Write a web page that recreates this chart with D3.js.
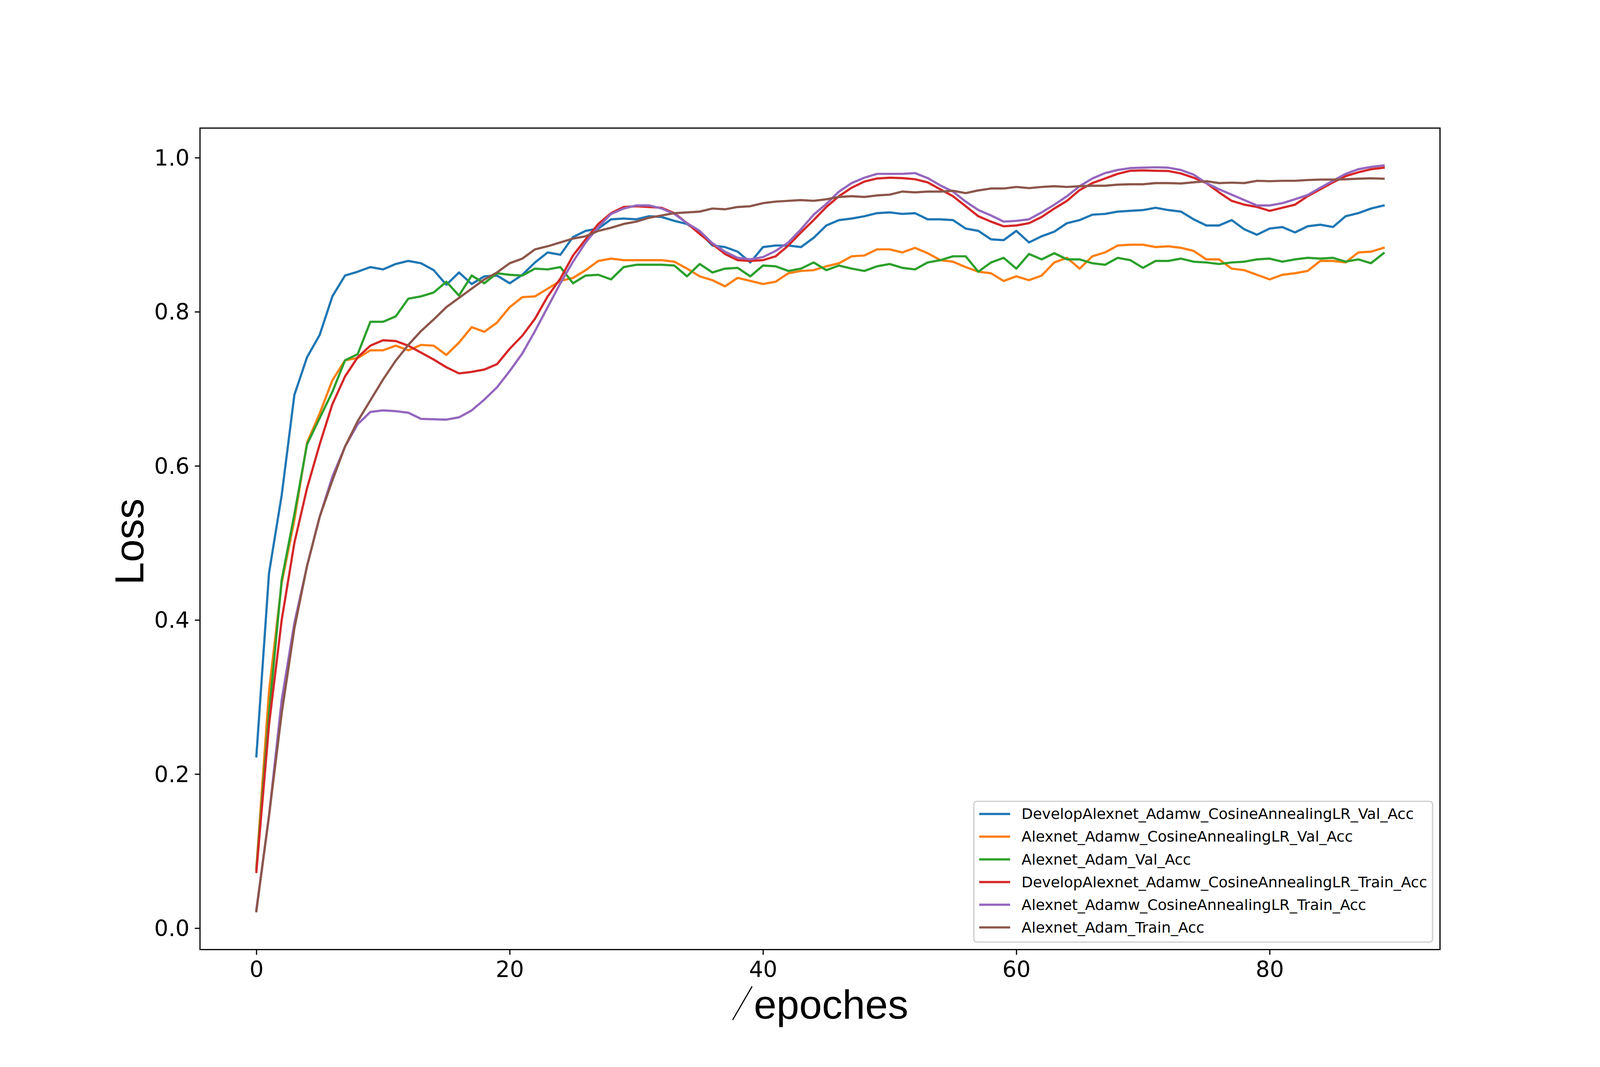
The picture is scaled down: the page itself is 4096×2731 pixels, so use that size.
<!DOCTYPE html>
<html>
<head>
<meta charset="utf-8">
<script src="https://cdn.jsdelivr.net/npm/d3@7"></script>
<style>
html,body{margin:0;padding:0;background:#fff;}
svg{display:block;}
</style>
</head>
<body>
<script>
// ---------------- data ----------------
const epochs = d3.range(0, 90);

const seriesNames = [
  "DevelopAlexnet_Adamw_CosineAnnealingLR_Val_Acc",
  "Alexnet_Adamw_CosineAnnealingLR_Val_Acc",
  "Alexnet_Adam_Val_Acc",
  "DevelopAlexnet_Adamw_CosineAnnealingLR_Train_Acc",
  "Alexnet_Adamw_CosineAnnealingLR_Train_Acc",
  "Alexnet_Adam_Train_Acc"
];

const developValAcc = [0.223,0.461,0.562,0.692,0.741,0.770,0.820,0.847,0.852,0.858,
  0.855,0.862,0.866,0.863,0.854,0.835,0.851,0.836,0.846,0.847,
  0.837,0.848,0.864,0.877,0.874,0.897,0.905,0.908,0.920,0.921,
  0.920,0.924,0.923,0.918,0.914,0.903,0.886,0.884,0.878,0.864,
  0.884,0.886,0.886,0.884,0.896,0.912,0.919,0.921,0.924,0.928,
  0.929,0.927,0.928,0.920,0.920,0.919,0.908,0.905,0.894,0.893,
  0.905,0.890,0.898,0.904,0.915,0.919,0.926,0.927,0.930,0.931,
  0.932,0.935,0.932,0.930,0.920,0.912,0.912,0.919,0.907,0.900,
  0.908,0.910,0.903,0.911,0.913,0.910,0.924,0.928,0.934,0.938];

const adamwValAcc = [0.078,0.308,0.448,0.530,0.630,0.668,0.711,0.737,0.740,0.750,
  0.750,0.756,0.750,0.757,0.756,0.744,0.760,0.780,0.774,0.786,
  0.806,0.819,0.820,0.830,0.840,0.844,0.854,0.866,0.869,0.867,
  0.867,0.867,0.867,0.865,0.856,0.846,0.841,0.833,0.844,0.840,
  0.836,0.839,0.850,0.853,0.854,0.859,0.863,0.872,0.873,0.881,
  0.881,0.877,0.883,0.876,0.867,0.865,0.858,0.852,0.850,0.840,
  0.846,0.841,0.847,0.864,0.870,0.856,0.872,0.877,0.886,0.887,
  0.887,0.884,0.885,0.883,0.879,0.868,0.868,0.856,0.854,0.848,
  0.842,0.848,0.850,0.853,0.866,0.866,0.864,0.877,0.878,0.883];

const adamValAcc = [0.076,0.279,0.452,0.537,0.628,0.662,0.696,0.737,0.745,0.787,
  0.787,0.794,0.817,0.820,0.825,0.839,0.821,0.847,0.837,0.850,
  0.848,0.847,0.856,0.855,0.858,0.837,0.847,0.848,0.842,0.858,
  0.861,0.861,0.861,0.860,0.846,0.862,0.851,0.856,0.857,0.846,
  0.860,0.859,0.853,0.856,0.864,0.854,0.860,0.856,0.853,0.859,
  0.862,0.857,0.855,0.864,0.867,0.872,0.872,0.852,0.864,0.870,
  0.856,0.875,0.868,0.876,0.868,0.868,0.863,0.861,0.870,0.867,
  0.857,0.866,0.866,0.869,0.865,0.864,0.862,0.864,0.865,0.868,
  0.869,0.865,0.868,0.870,0.869,0.870,0.865,0.868,0.863,0.876];

const developTrainAcc = [0.073,0.264,0.400,0.500,0.571,0.628,0.680,0.716,0.741,0.756,
  0.763,0.762,0.756,0.747,0.738,0.728,0.720,0.722,0.725,0.732,
  0.752,0.769,0.791,0.820,0.843,0.873,0.894,0.914,0.928,0.936,
  0.937,0.936,0.935,0.928,0.915,0.901,0.888,0.875,0.867,0.866,
  0.867,0.872,0.886,0.903,0.919,0.936,0.950,0.961,0.969,0.973,
  0.974,0.9735,0.972,0.968,0.959,0.950,0.937,0.924,0.917,0.911,
  0.912,0.915,0.923,0.934,0.944,0.958,0.967,0.973,0.979,0.983,
  0.9835,0.983,0.9827,0.9795,0.974,0.967,0.955,0.944,0.939,0.936,
  0.931,0.935,0.939,0.950,0.959,0.968,0.976,0.981,0.985,0.987];

const adamwTrainAcc = [0.024,0.146,0.296,0.396,0.470,0.534,0.586,0.625,0.654,0.670,
  0.672,0.671,0.669,0.661,0.6605,0.660,0.663,0.672,0.686,0.702,
  0.723,0.746,0.775,0.806,0.837,0.865,0.890,0.910,0.927,0.934,
  0.938,0.938,0.934,0.927,0.915,0.905,0.889,0.878,0.870,0.868,
  0.871,0.879,0.890,0.907,0.926,0.940,0.956,0.967,0.974,0.979,
  0.979,0.979,0.980,0.9735,0.964,0.956,0.943,0.932,0.925,0.917,
  0.918,0.920,0.929,0.939,0.950,0.963,0.973,0.980,0.984,0.9865,
  0.987,0.9875,0.987,0.984,0.978,0.967,0.959,0.952,0.945,0.938,
  0.938,0.941,0.946,0.9515,0.961,0.970,0.979,0.985,0.988,0.990];

const adamTrainAcc = [0.022,0.146,0.279,0.389,0.470,0.534,0.581,0.625,0.658,0.685,
  0.712,0.7365,0.757,0.775,0.790,0.806,0.818,0.830,0.842,0.851,
  0.863,0.869,0.881,0.885,0.890,0.895,0.898,0.905,0.909,0.914,
  0.917,0.922,0.925,0.928,0.929,0.930,0.934,0.933,0.936,0.937,
  0.941,0.943,0.944,0.945,0.944,0.946,0.949,0.950,0.949,0.951,
  0.952,0.956,0.955,0.956,0.956,0.957,0.954,0.9575,0.960,0.960,
  0.962,0.9605,0.962,0.963,0.962,0.963,0.9636,0.9636,0.965,0.9655,
  0.9655,0.967,0.967,0.9665,0.968,0.9695,0.967,0.9676,0.967,0.970,
  0.9695,0.970,0.970,0.971,0.9716,0.9716,0.972,0.9727,0.9732,0.9727];

const seriesValues = [developValAcc, adamwValAcc, adamValAcc, developTrainAcc, adamwTrainAcc, adamTrainAcc];
const seriesColors = ["#1f77b4","#ff7f0e","#2ca02c","#d62728","#9467bd","#8c564b"];

const xTicks = [0, 20, 40, 60, 80];
const yTicks = [0.0, 0.2, 0.4, 0.6, 0.8, 1.0];
const xLabelText = "epoches";
const xLabelPrefix = "／";
const yLabelText = "Loss";

// ---------------- layout (reference pixel space, scaled by viewBox) ----------------
const W = 4500, H = 3000;
const L = 562.5, R = 4050, T = 360, B = 2670;

const svg = d3.select("body").append("svg")
  .attr("width", 4096).attr("height", 2731)
  .attr("viewBox", `0 0 ${W} ${H}`);

svg.append("rect").attr("width", W).attr("height", H).attr("fill", "#fff");

const x = d3.scaleLinear().domain([-4.45, 93.45]).range([L, R]);
const y = d3.scaleLinear().domain([-0.0278, 1.0384]).range([B, T]);

const lw = 6.25;        // 1.5pt line
const spineW = 3.33;    // 0.8pt
const tickLen = 14.6;
const tickFont = 62.5;

// lines
const line = d3.line().x((d, i) => x(epochs[i])).y(d => y(d));
const gLines = svg.append("g");
seriesValues.forEach((vals, k) => {
  gLines.append("path")
    .datum(vals)
    .attr("d", line)
    .attr("fill", "none")
    .attr("stroke", seriesColors[k])
    .attr("stroke-width", lw)
    .attr("stroke-linejoin", "round")
    .attr("stroke-linecap", "square");
});

// axes
const xAxis = d3.axisBottom(x).tickValues(xTicks).tickFormat(d3.format("d"))
  .tickSizeInner(tickLen).tickSizeOuter(0).tickPadding(14.6);
const yAxis = d3.axisLeft(y).tickValues(yTicks).tickFormat(d3.format(".1f"))
  .tickSizeInner(tickLen).tickSizeOuter(0).tickPadding(14.6);

const gx = svg.append("g").attr("transform", `translate(0,${B})`).call(xAxis);
const gy = svg.append("g").attr("transform", `translate(${L},0)`).call(yAxis);
[gx, gy].forEach(g => {
  g.select(".domain").remove();
  g.selectAll(".tick line").attr("stroke", "#000").attr("stroke-width", spineW);
  g.selectAll(".tick text")
    .attr("font-family", "DejaVu Sans")
    .attr("font-size", tickFont)
    .attr("fill", "#000");
});
gx.selectAll(".tick text").attr("dy", null).attr("y", null)
  .attr("transform", `translate(0,${2747 - B})`).attr("dominant-baseline", "alphabetic");
gy.selectAll(".tick text").attr("dy", null).attr("x", 533 - L)
  .attr("dominant-baseline", "central");

// spines
svg.append("rect")
  .attr("x", L).attr("y", T).attr("width", R - L).attr("height", B - T)
  .attr("fill", "none").attr("stroke", "#000").attr("stroke-width", spineW)
  .attr("stroke-linejoin", "miter");

// axis labels
const xLabelG = svg.append("g");
xLabelG.append("text")
  .attr("transform", "translate(2088,2861) scale(0.58,1)")
  .attr("text-anchor", "middle")
  .attr("font-family", "Noto Sans CJK SC")
  .attr("font-size", 105)
  .attr("fill", "#000")
  .text(xLabelPrefix);
xLabelG.append("text")
  .attr("x", 2120).attr("y", 2864)
  .attr("text-anchor", "start")
  .attr("font-family", "Liberation Sans, Arial, sans-serif")
  .attr("font-size", 115)
  .attr("fill", "#000")
  .text(xLabelText);

svg.append("text")
  .attr("transform", `translate(403,1523) rotate(-90)`)
  .attr("text-anchor", "middle")
  .attr("font-family", "Liberation Sans, Arial, sans-serif")
  .attr("font-size", 115)
  .attr("fill", "#000")
  .text(yLabelText);

// legend
const legX = 2739, legY = 2253, legW = 4029 - 2739, legH = 2649 - 2253;
const gLeg = svg.append("g");
gLeg.append("rect")
  .attr("x", legX).attr("y", legY).attr("width", legW).attr("height", legH)
  .attr("rx", 8.3).attr("ry", 8.3)
  .attr("fill", "#fff").attr("fill-opacity", 0.8)
  .attr("stroke", "#cccccc").attr("stroke-width", spineW);
const rowY0 = 2288.7, rowStep = 63.8;
seriesNames.forEach((name, k) => {
  const ry = rowY0 + k * rowStep;
  gLeg.append("line")
    .attr("x1", 2754).attr("x2", 2841).attr("y1", ry).attr("y2", ry)
    .attr("stroke", seriesColors[k]).attr("stroke-width", lw)
    .attr("stroke-linecap", "butt");
  gLeg.append("text")
    .attr("x", 2873).attr("y", ry)
    .attr("dominant-baseline", "central")
    .attr("font-family", "DejaVu Sans")
    .attr("font-size", 41.67)
    .attr("fill", "#000")
    .text(name);
});
</script>
</body>
</html>
